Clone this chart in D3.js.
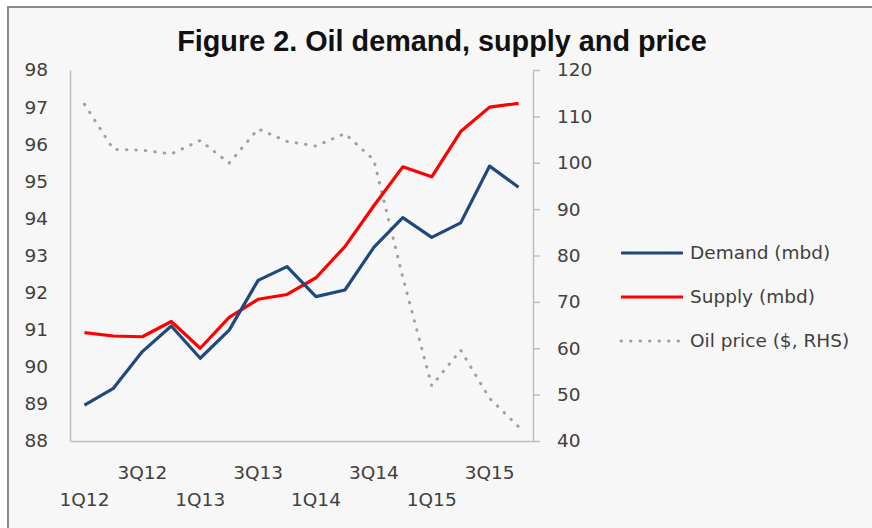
<!DOCTYPE html>
<html>
<head>
<meta charset="utf-8">
<script src="https://cdn.jsdelivr.net/npm/d3@7"></script>
<style>
  body { margin: 0; background: #ffffff; }
  text { font-family: "DejaVu Sans", sans-serif; }
</style>
</head>
<body>
<div id="chart"></div>
<script>
// quarters shown on the category axis
var quarters = ["1Q12","2Q12","3Q12","4Q12","1Q13","2Q13","3Q13","4Q13",
                "1Q14","2Q14","3Q14","4Q14","1Q15","2Q15","3Q15","4Q15"];
// mbd, left axis
var demand = [88.97, 89.42, 90.41, 91.10, 90.23, 90.99, 92.33, 92.70,
              91.89, 92.07, 93.22, 94.02, 93.49, 93.88, 95.41, 94.84];
var supply = [90.92, 90.83, 90.81, 91.22, 90.50, 91.33, 91.82, 91.95,
              92.40, 93.24, 94.34, 95.39, 95.12, 96.34, 97.00, 97.10];
// $ per barrel, right axis
var price = [112.6, 102.9, 102.7, 101.9, 104.8, 99.9, 107.3, 104.6,
             103.6, 106.3, 100.6, 75.3, 51.9, 59.6, 49.2, 43.1];
var leftTicks = [88, 89, 90, 91, 92, 93, 94, 95, 96, 97, 98];
var rightTicks = [40, 50, 60, 70, 80, 90, 100, 110, 120];
var legendNames = ["Demand (mbd)", "Supply (mbd)", "Oil price ($, RHS)"];

var W = 872, H = 528;
var plot = {left: 70, right: 533, top: 70, bottom: 441};

var svg = d3.select("#chart").append("svg")
    .attr("width", W)
    .attr("height", H);

// chart frame
svg.append("rect")
    .attr("x", 8).attr("y", 7)
    .attr("width", W + 20).attr("height", H + 20)
    .attr("fill", "#f7f7f7")
    .attr("stroke", "#8a8a8a")
    .attr("stroke-width", 2);

svg.append("text")
    .attr("x", 442).attr("y", 51)
    .attr("text-anchor", "middle")
    .style("font-family", "'Liberation Sans', Arial, sans-serif")
    .style("font-weight", "bold")
    .style("font-size", "28.8px")
    .attr("fill", "#111")
    .text("Figure 2. Oil demand, supply and price");

var x = d3.scaleBand()
    .domain(quarters)
    .range([plot.left, plot.right]);
var cx = function(q) { return x(q) + x.bandwidth() / 2; };

var yL = d3.scaleLinear().domain([88, 98]).range([plot.bottom, plot.top]);
var yR = d3.scaleLinear().domain([40, 120]).range([plot.bottom, plot.top]);

// left axis
var gL = svg.append("g")
    .attr("transform", "translate(" + plot.left + ",0)")
    .call(d3.axisLeft(yL).tickValues(leftTicks).tickSize(0).tickPadding(22)
          .tickFormat(d3.format("d")));
gL.select(".domain").attr("stroke", "#bfbfbf").attr("stroke-width", 1.5);

// right axis
var gR = svg.append("g")
    .attr("transform", "translate(" + plot.right + ",0)")
    .call(d3.axisRight(yR).tickValues(rightTicks).tickSize(7).tickSizeOuter(0)
          .tickPadding(17).tickFormat(d3.format("d")));
gR.select(".domain").attr("stroke", "#bfbfbf").attr("stroke-width", 1.5);
gR.selectAll(".tick line").attr("stroke", "#bfbfbf").attr("stroke-width", 1.5);

// bottom axis, every other quarter, staggered on two rows
var gB = svg.append("g")
    .attr("transform", "translate(0," + plot.bottom + ")")
    .call(d3.axisBottom(x).tickValues(quarters.filter(function(d, i) { return i % 2 == 0; }))
          .tickSize(0).tickSizeOuter(0));
gB.select(".domain").attr("stroke", "#bfbfbf").attr("stroke-width", 1.5);
gB.selectAll(".tick text")
    .attr("y", function(d) { return quarters.indexOf(d) % 4 == 0 ? 52 : 25; });

svg.selectAll(".tick text")
    .style("font-family", "'DejaVu Sans', sans-serif")
    .style("font-size", "18.5px")
    .attr("fill", "#404040");

// series
var lineL = function(vals) {
  return d3.line().x(function(d, i) { return cx(quarters[i]); })
                  .y(function(d) { return yL(d); })(vals);
};
svg.append("path")
    .attr("d", d3.line().x(function(d, i) { return cx(quarters[i]); })
                        .y(function(d) { return yR(d); })(price))
    .attr("fill", "none")
    .attr("stroke", "#a0a0a0")
    .attr("stroke-width", 3)
    .attr("stroke-linecap", "round")
    .attr("stroke-dasharray", "0.5 9");
svg.append("path")
    .attr("d", lineL(supply))
    .attr("fill", "none")
    .attr("stroke", "#ff0000")
    .attr("stroke-width", 3.2)
    .attr("stroke-linejoin", "round");
svg.append("path")
    .attr("d", lineL(demand))
    .attr("fill", "none")
    .attr("stroke", "#1f497d")
    .attr("stroke-width", 3.2)
    .attr("stroke-linejoin", "round");

// legend
var legendY = [253, 297, 341];
var legendStyle = [
  {stroke: "#1f497d", dash: null, cap: "butt"},
  {stroke: "#ff0000", dash: null, cap: "butt"},
  {stroke: "#a0a0a0", dash: "0.5 9", cap: "round"}
];
legendNames.forEach(function(name, i) {
  svg.append("line")
      .attr("x1", 621).attr("x2", 683)
      .attr("y1", legendY[i]).attr("y2", legendY[i])
      .attr("stroke", legendStyle[i].stroke)
      .attr("stroke-width", 3)
      .attr("stroke-linecap", legendStyle[i].cap)
      .attr("stroke-dasharray", legendStyle[i].dash);
  svg.append("text")
      .attr("x", 690).attr("y", legendY[i])
      .attr("dy", "0.35em")
      .style("font-size", "18.5px")
      .attr("fill", "#404040")
      .text(name);
});
</script>
</body>
</html>
